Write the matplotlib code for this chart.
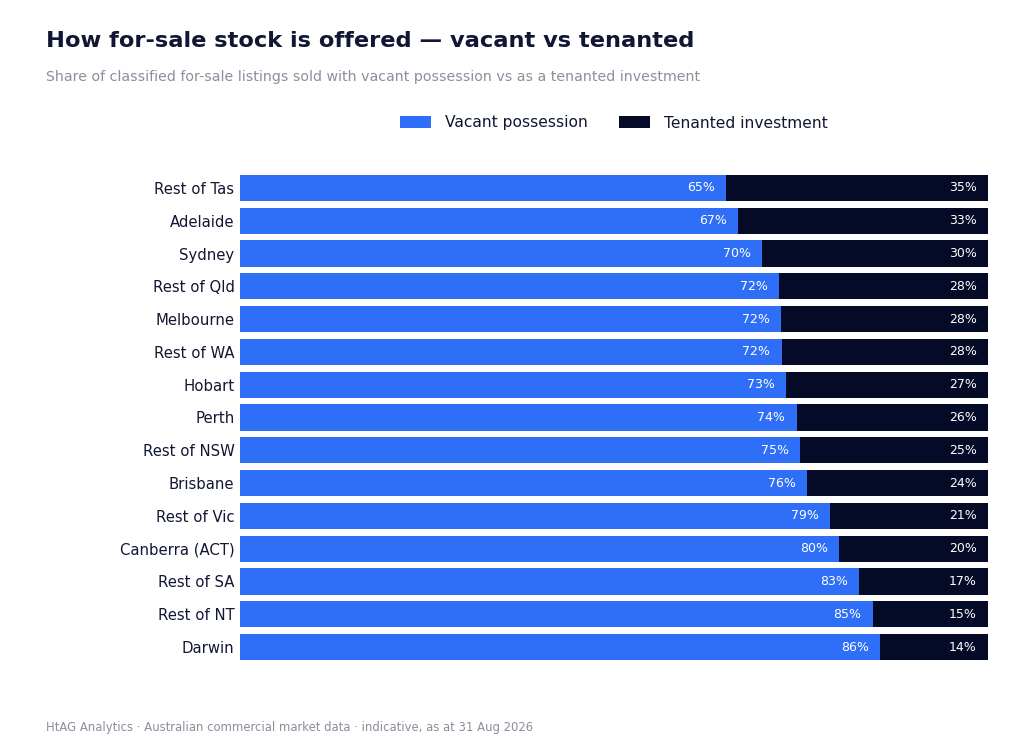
import matplotlib
matplotlib.use("Agg")
import matplotlib.pyplot as plt
import numpy as np

# data (share of listings, %)
regions = ["Rest of Tas", "Adelaide", "Sydney", "Rest of Qld", "Melbourne",
           "Rest of WA", "Hobart", "Perth", "Rest of NSW", "Brisbane",
           "Rest of Vic", "Canberra (ACT)", "Rest of SA", "Rest of NT", "Darwin"]
vacant = [65.0, 66.6, 69.8, 72.1, 72.3, 72.4, 73.0, 74.4, 74.9, 75.8,
          78.9, 80.1, 82.8, 84.6, 85.6]
tenanted = [100 - v for v in vacant]

BLUE = "#2f6ff7"
NAVY = "#050b26"
TEXT = "#111633"
GREY = "#8a8f9c"

fig = plt.figure(figsize=(10.24, 7.52), dpi=100)
ax = fig.add_axes([240 / 1024, 1 - 663.4 / 752, 748 / 1024, 491.8 / 752])

y = np.arange(len(regions))
b1 = ax.barh(y, vacant, height=0.8, color=BLUE, label="Vacant possession")
b2 = ax.barh(y, tenanted, left=vacant, height=0.8, color=NAVY, label="Tenanted investment")

for yi, v, t in zip(y, vacant, tenanted):
    ax.text(v - 1.5, yi, f"{v:.0f}%", ha="right", va="center", color="white", fontsize=9)
    ax.text(98.5, yi, f"{t:.0f}%", ha="right", va="center", color="white", fontsize=9)

ax.set_xlim(0, 100)
ax.set_ylim(len(regions) - 0.5, -0.5)
ax.set_yticks(y)
ax.set_yticklabels(regions, fontsize=10.7, color=TEXT)
ax.set_xticks([])
ax.tick_params(axis="y", length=0, pad=4)
for s in ax.spines.values():
    s.set_visible(False)

fig.text(46 / 1024, 1 - 41 / 752, "How for-sale stock is offered — vacant vs tenanted",
         fontsize=16.2, fontweight="bold", color=TEXT, va="center")
fig.text(46 / 1024, 1 - 77 / 752,
         "Share of classified for-sale listings sold with vacant possession vs as a tenanted investment",
         fontsize=10.15, color=GREY, va="center")
fig.text(46 / 1024, 1 - 727 / 752,
         "HtAG Analytics · Australian commercial market data · indicative, as at 31 Aug 2026",
         fontsize=8.35, color=GREY, va="center")

fig.legend(handles=[b1, b2], loc="center", bbox_to_anchor=(614 / 1024, 1 - 123 / 752),
           ncol=2, frameon=False, fontsize=11.2, handlelength=2.0, handleheight=0.75,
           handletextpad=0.9, columnspacing=2.0, labelcolor=TEXT)

fig.savefig("out.png", dpi=100)
